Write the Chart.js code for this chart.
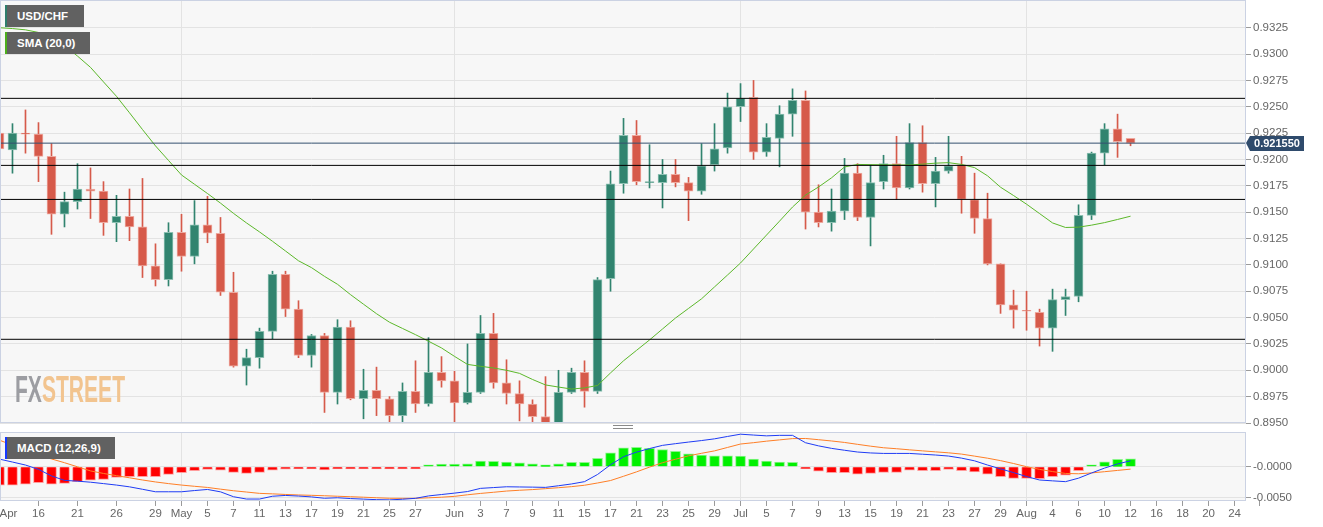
<!DOCTYPE html>
<html>
<head>
<meta charset="utf-8">
<title>USD/CHF daily</title>
<script src="https://cdn.jsdelivr.net/npm/chart.js@4.4.1/dist/chart.umd.min.js"></script>
<style>
    body { margin: 0; background: #fff; }
    #page { position: relative; width: 1323px; height: 527px; overflow: hidden; font-family: "Liberation Sans", Arial, sans-serif; }
    #page canvas { display: block; }
    .pane { position: absolute; left: 0; width: 1323px; }
    .tag { position: absolute; left: 5px; height: 22px; line-height: 22px; box-sizing: border-box;
           padding-left: 10px; border-left: 2px solid; background: #616161; color: #fff;
           font-size: 11.5px; font-weight: bold; white-space: nowrap; }
    #logo { position: absolute; left: 15px; top: 372px; font-size: 36px; font-weight: bold; line-height: 36px;
            transform: scaleX(0.585); transform-origin: 0 0; white-space: nowrap; }
    #logo .fx { color: #9c9da2; }
    #logo .st { color: #f2c48f; }
    #grip { position: absolute; left: 613px; top: 425px; width: 20px; height: 2px;
            border-top: 1px solid #8a8a8a; border-bottom: 1px solid #8a8a8a; }
</style>
</head>
<body>
<div id="page">
    <div class="pane" style="top:0;height:435px"><canvas id="priceChart" width="1323" height="435"></canvas></div>
    <div class="pane" style="top:428px;height:99px"><canvas id="macdChart" width="1323" height="99"></canvas></div>
    <div id="grip"></div>
    <div id="logo"><span class="fx">FX</span><span class="st">STREET</span></div>
    <div class="tag" style="top:5px;width:79px;border-color:#2e7d6b">USD/CHF</div>
    <div class="tag" style="top:32px;width:85px;border-color:#4cae1c">SMA (20,0)</div>
    <div class="tag" style="top:437px;width:110px;border-color:#1538ff">MACD (12,26,9)</div>
</div>

<script>
// daily candles, one per session (index = session number)
const openP = [
    0.9225, 0.9209, 0.9225, 0.9224, 0.9203, 0.9148, 0.9160, 0.9172, 0.9170, 0.9140,
    0.9146, 0.9136, 0.9099, 0.9086, 0.9131, 0.9108, 0.9138, 0.9130, 0.9074, 0.9004,
    0.9012, 0.9037, 0.9091, 0.9058, 0.9014, 0.9033, 0.8979, 0.9041, 0.8973, 0.8981,
    0.8973, 0.8957, 0.8980, 0.8968, 0.8998, 0.8990, 0.8969, 0.8979, 0.9035, 0.8988,
    0.8978, 0.8968, 0.8956, 0.8947, 0.8979, 0.8998, 0.8980, 0.9087, 0.9177, 0.9223,
    0.9178, 0.9178, 0.9186, 0.9178, 0.9170, 0.9195, 0.9211, 0.9250, 0.9259, 0.9207,
    0.9220, 0.9243, 0.9256, 0.9150, 0.9140, 0.9151, 0.9187, 0.9145, 0.9179, 0.9196,
    0.9173, 0.9216, 0.9177, 0.9189, 0.9195, 0.9162, 0.9144, 0.9101, 0.9062, 0.9057,
    0.9055, 0.9040, 0.9067, 0.9070, 0.9147, 0.9206, 0.9229, 0.9220
];
const highP = [
    0.9260, 0.9234, 0.9247, 0.9235, 0.9215, 0.9169, 0.9196, 0.9192, 0.9179, 0.9166,
    0.9172, 0.9182, 0.9120, 0.9140, 0.9148, 0.9161, 0.9165, 0.9145, 0.9093, 0.9020,
    0.9040, 0.9094, 0.9094, 0.9066, 0.9034, 0.9035, 0.9048, 0.9047, 0.9001, 0.9003,
    0.8975, 0.8988, 0.9009, 0.9031, 0.9013, 0.8999, 0.9025, 0.9052, 0.9054, 0.9010,
    0.8990, 0.8972, 0.8994, 0.9000, 0.9002, 0.9009, 0.9088, 0.9189, 0.9239, 0.9237,
    0.9214, 0.9200, 0.9200, 0.9183, 0.9215, 0.9234, 0.9263, 0.9272, 0.9275, 0.9234,
    0.9251, 0.9267, 0.9265, 0.9176, 0.9172, 0.9201, 0.9196, 0.9195, 0.9204, 0.9222,
    0.9234, 0.9232, 0.9202, 0.9222, 0.9203, 0.9187, 0.9168, 0.9101, 0.9076, 0.9075,
    0.9058, 0.9077, 0.9077, 0.9157, 0.9207, 0.9234, 0.9243, 0.9220
];
const lowP = [
    0.9198, 0.9187, 0.9206, 0.9179, 0.9129, 0.9136, 0.9153, 0.9144, 0.9128, 0.9122,
    0.9123, 0.9088, 0.9080, 0.9080, 0.9094, 0.9101, 0.9121, 0.9071, 0.9003, 0.8986,
    0.9002, 0.9030, 0.9051, 0.9012, 0.9003, 0.8960, 0.8968, 0.8972, 0.8954, 0.8957,
    0.8948, 0.8949, 0.8960, 0.8966, 0.8984, 0.8949, 0.8968, 0.8978, 0.8983, 0.8968,
    0.8952, 0.8949, 0.8940, 0.8940, 0.8978, 0.8965, 0.8978, 0.9075, 0.9168, 0.9176,
    0.9173, 0.9154, 0.9174, 0.9142, 0.9167, 0.9189, 0.9206, 0.9236, 0.9200, 0.9203,
    0.9193, 0.9222, 0.9134, 0.9136, 0.9132, 0.9143, 0.9142, 0.9118, 0.9172, 0.9162,
    0.9172, 0.9169, 0.9155, 0.9187, 0.9149, 0.9130, 0.9100, 0.9054, 0.9040, 0.9038,
    0.9023, 0.9018, 0.9052, 0.9065, 0.9143, 0.9195, 0.9202, 0.9213
];
const closeP = [
    0.9210, 0.9225, 0.9224, 0.9203, 0.9148, 0.9160, 0.9172, 0.9170, 0.9140, 0.9146,
    0.9136, 0.9099, 0.9086, 0.9131, 0.9108, 0.9138, 0.9130, 0.9074, 0.9004, 0.9012,
    0.9037, 0.9091, 0.9058, 0.9014, 0.9033, 0.8979, 0.9041, 0.8973, 0.8981, 0.8973,
    0.8957, 0.8980, 0.8968, 0.8998, 0.8990, 0.8969, 0.8979, 0.9035, 0.8988, 0.8978,
    0.8968, 0.8956, 0.8947, 0.8979, 0.8998, 0.8980, 0.9086, 0.9177, 0.9223, 0.9179,
    0.9179, 0.9186, 0.9178, 0.9170, 0.9194, 0.9210, 0.9250, 0.9258, 0.9207, 0.9221,
    0.9243, 0.9256, 0.9150, 0.9140, 0.9151, 0.9187, 0.9145, 0.9178, 0.9196, 0.9173,
    0.9216, 0.9177, 0.9189, 0.9194, 0.9162, 0.9144, 0.9101, 0.9062, 0.9057, 0.9056,
    0.9040, 0.9067, 0.9070, 0.9147, 0.9206, 0.9229, 0.9217, 0.92155
];
const sma20 = [
    0.93250, 0.93242, 0.93230, 0.93205, 0.93151, 0.93081, 0.92981, 0.92874, 0.92736, 0.92599,
    0.92443, 0.92284, 0.92129, 0.91991, 0.91853, 0.91765, 0.91677, 0.91586, 0.91489, 0.91398,
    0.91313, 0.91224, 0.91132, 0.91039, 0.90974, 0.90891, 0.90816, 0.90718, 0.90627, 0.90537,
    0.90456, 0.90397, 0.90338, 0.90276, 0.90212, 0.90132, 0.90056, 0.90038, 0.90022, 0.90000,
    0.89971, 0.89913, 0.89861, 0.89841, 0.89822, 0.89833, 0.89856, 0.89975, 0.90090, 0.90189,
    0.90288, 0.90392, 0.90496, 0.90587, 0.90678, 0.90791, 0.90904, 0.91018, 0.91151, 0.91283,
    0.91415, 0.91549, 0.91662, 0.91739, 0.91826, 0.91929, 0.91953, 0.91951, 0.91949, 0.91948,
    0.91948, 0.91956, 0.91965, 0.91970, 0.91953, 0.91923, 0.91845, 0.91737, 0.91658, 0.91576,
    0.91487, 0.91398, 0.91355, 0.91358, 0.91377, 0.91401, 0.91431, 0.91462
];
const macdLine = [
    0.00126, 0.00078, 0.00029, -0.00042, -0.00149, -0.00222, -0.00235, -0.00252, -0.00275, -0.00299,
    -0.00328, -0.00368, -0.00409, -0.00409, -0.00409, -0.00389, -0.00371, -0.00410, -0.00490, -0.00528,
    -0.00528, -0.00482, -0.00469, -0.00479, -0.00493, -0.00515, -0.00507, -0.00520, -0.00529, -0.00538,
    -0.00542, -0.00531, -0.00516, -0.00477, -0.00454, -0.00431, -0.00405, -0.00353, -0.00340, -0.00327,
    -0.00330, -0.00333, -0.00337, -0.00310, -0.00281, -0.00243, -0.00126, 0.00033, 0.00165, 0.00240,
    0.00299, 0.00351, 0.00379, 0.00405, 0.00430, 0.00458, 0.00497, 0.00534, 0.00520, 0.00507,
    0.00515, 0.00515, 0.00394, 0.00343, 0.00302, 0.00271, 0.00242, 0.00227, 0.00219, 0.00219,
    0.00219, 0.00206, 0.00193, 0.00176, 0.00142, 0.00098, 0.00029, -0.00034, -0.00095, -0.00160,
    -0.00216, -0.00230, -0.00243, -0.00186, -0.00101, -0.00021, 0.00047, 0.00098
];
const signalLine = [
    0.00436, 0.00355, 0.00270, 0.00193, 0.00129, 0.00067, 0.00000, -0.00067, -0.00109, -0.00145,
    -0.00180, -0.00216, -0.00248, -0.00275, -0.00299, -0.00319, -0.00338, -0.00366, -0.00392, -0.00413,
    -0.00435, -0.00443, -0.00453, -0.00461, -0.00467, -0.00474, -0.00482, -0.00490, -0.00498, -0.00507,
    -0.00515, -0.00516, -0.00516, -0.00508, -0.00498, -0.00484, -0.00458, -0.00436, -0.00417, -0.00397,
    -0.00384, -0.00373, -0.00358, -0.00342, -0.00325, -0.00302, -0.00265, -0.00225, -0.00155, -0.00083,
    -0.00005, 0.00067, 0.00124, 0.00180, 0.00221, 0.00261, 0.00317, 0.00373, 0.00395, 0.00420,
    0.00441, 0.00462, 0.00464, 0.00444, 0.00423, 0.00399, 0.00368, 0.00338, 0.00312, 0.00296,
    0.00278, 0.00261, 0.00245, 0.00229, 0.00208, 0.00175, 0.00141, 0.00101, 0.00054, 0.00002,
    -0.00042, -0.00078, -0.00109, -0.00114, -0.00100, -0.00080, -0.00059, -0.00038
];
const macdHist = [
    -0.00299, -0.00299, -0.00283, -0.00261, -0.00283, -0.00271, -0.00245, -0.00217, -0.00206, -0.00173,
    -0.00163, -0.00163, -0.00163, -0.00124, -0.00098, -0.00065, -0.00042, -0.00054, -0.00092, -0.00108,
    -0.00092, -0.00054, -0.00038, -0.00033, -0.00033, -0.00049, -0.00026, -0.00033, -0.00033, -0.00033,
    -0.00033, -0.00021, -0.00008, 0.00028, 0.00044, 0.00044, 0.00049, 0.00093, 0.00088, 0.00077,
    0.00065, 0.00049, 0.00033, 0.00049, 0.00072, 0.00072, 0.00137, 0.00229, 0.00310, 0.00317,
    0.00301, 0.00284, 0.00252, 0.00212, 0.00191, 0.00180, 0.00180, 0.00175, 0.00126, 0.00093,
    0.00077, 0.00072, -0.00005, -0.00070, -0.00098, -0.00098, -0.00119, -0.00108, -0.00092, -0.00092,
    -0.00054, -0.00065, -0.00065, -0.00042, -0.00065, -0.00082, -0.00119, -0.00163, -0.00190, -0.00190,
    -0.00196, -0.00163, -0.00136, -0.00065, 0.00010, 0.00082, 0.00121, 0.00131
];

// support / resistance levels and the last quote
const levels = [0.92580, 0.91944, 0.91621, 0.90294];
const LAST_PRICE = 0.92155;

// axis ticks
const priceTicks = [0.8950, 0.8975, 0.9000, 0.9025, 0.9050, 0.9075, 0.9100, 0.9125,
                    0.9150, 0.9175, 0.9200, 0.9225, 0.9250, 0.9275, 0.9300, 0.9325];
const macdTicks = [-0.005, 0];
const macdTickLabels = ['-0.0050', '-0.0000'];
const tickPos = [0, 3, 6, 9, 12, 14, 16, 18, 20, 22, 24, 26, 28, 30, 32,
                 35, 37, 39, 41, 43, 45, 47, 49, 51, 53, 55, 57, 59, 61, 63, 65, 67,
                 69, 71, 73, 75, 77, 79, 81, 83, 85, 87, 89, 91, 93, 95];
const tickLabels = ['Apr', '16', '21', '26', '29', 'May', '5', '7', '11', '13', '17', '19', '21', '25', '27',
                    'Jun', '3', '7', '9', '11', '15', '17', '21', '23', '25', '29', 'Jul', '5', '7', '9', '13', '15',
                    '19', '21', '23', '27', '29', 'Aug', '4', '6', '10', '12', '16', '18', '20', '24'];

const X_MIN = 0.04;    // first candle is cut in half by the panel edge
const X_MAX = 95.88;   // empty sessions kept on the right
const AXIS_W = 77;
const GRID = '#e3e3e3';
const TICK = '#9a9a9a';
const TEAL = '#31846f', TEAL_EDGE = '#8dc0b2';
const RED = '#d65a4a', RED_EDGE = '#eeaaa0';

Chart.defaults.font.family = '"Liberation Sans", Arial, sans-serif';
Chart.defaults.font.size = 11.5;
Chart.defaults.color = '#666';


function isUp(i) {
    return closeP[i] >= openP[i];
}

function pts(values) {
    return values.map(function (v, i) { return { x: i, y: v }; });
}

function span(v) {
    return [{ x: X_MIN, y: v }, { x: X_MAX, y: v }];
}

function dateTicks(scale) {
    scale.ticks = tickPos.map(function (p) { return { value: p }; });
    // dummy tick past the end so "24" stays centred with align 'inner'
    scale.ticks.push({ value: X_MAX + 1 });
}

function monthGrid(ctx) {
    var lab = tickLabels[ctx.index];
    return lab && /^[A-Z]/.test(lab) ? GRID : 'transparent';
}

function rightAxisFit(scale) {
    scale.width = AXIS_W;
    scale.paddingTop = 0;
    scale.paddingBottom = 0;
}

// grey panel background and thin frame
var panelBox = {
    id: 'panelBox',
    beforeDraw: function (chart) {
        var a = chart.chartArea, ctx = chart.ctx;
        ctx.save();
        ctx.fillStyle = '#f7f7f7';
        ctx.fillRect(a.left, a.top, a.right - a.left, a.bottom - a.top);
        ctx.restore();
    },
    afterDraw: function (chart) {
        var a = chart.chartArea, ctx = chart.ctx;
        ctx.save();
        ctx.strokeStyle = '#cbd2e3';
        ctx.lineWidth = 1;
        ctx.strokeRect(a.left + 0.5, a.top + 0.5, a.right - a.left - 1, a.bottom - a.top - 1);
        ctx.restore();
    }
};

// last price flag on the right axis
var lastPriceTag = {
    id: 'lastPriceTag',
    afterDraw: function (chart) {
        var ctx = chart.ctx;
        var y = Math.round(chart.scales.y.getPixelForValue(LAST_PRICE));
        var x = chart.chartArea.right;
        ctx.save();
        ctx.fillStyle = '#2f4b6c';
        ctx.beginPath();
        ctx.moveTo(x, y);
        ctx.lineTo(x + 4, y - 7);
        ctx.lineTo(x + 58, y - 7);
        ctx.lineTo(x + 58, y + 8);
        ctx.lineTo(x + 4, y + 8);
        ctx.closePath();
        ctx.fill();
        ctx.fillStyle = '#fff';
        ctx.font = 'bold 11px "Liberation Sans", Arial, sans-serif';
        ctx.textAlign = 'center';
        ctx.textBaseline = 'middle';
        ctx.fillText(LAST_PRICE.toFixed(6), x + 31, y + 0.5);
        ctx.restore();
    }
};


function drawPriceChart() {
    var bodies = openP.map(function (o, i) { return { x: i, y: [o, closeP[i]] }; });
    var wicks = lowP.map(function (l, i) { return { x: i, y: [l, highP[i]] }; });
    var fill = openP.map(function (o, i) { return isUp(i) ? TEAL : RED; });
    var edge = openP.map(function (o, i) { return isUp(i) ? TEAL_EDGE : RED_EDGE; });

    var datasets = [
        { type: 'line', label: 'last', data: span(LAST_PRICE), borderColor: '#34506f',
          borderWidth: 1, pointRadius: 0, order: 0 }
    ];
    levels.forEach(function (v) {
        datasets.push({ type: 'line', label: 'level', data: span(v), borderColor: '#000',
                        borderWidth: 1, pointRadius: 0, order: 1 });
    });
    datasets.push(
        { type: 'line', label: 'SMA (20,0)', data: pts(sma20), borderColor: '#5cb82a',
          borderWidth: 1, pointRadius: 0, order: 2 },
        { label: 'body', data: bodies, backgroundColor: fill, borderColor: edge, borderWidth: 1,
          borderSkipped: false, barThickness: 9, minBarLength: 1, grouped: false, order: 3 },
        { label: 'wick', data: wicks, backgroundColor: fill, barThickness: 1,
          grouped: false, order: 4 }
    );

    new Chart(document.getElementById('priceChart'), {
        type: 'bar',
        data: { datasets: datasets },
        options: {
            responsive: false,
            animation: false,
            events: [],
            layout: { padding: 0 },
            plugins: { legend: { display: false }, tooltip: { enabled: false } },
            scales: {
                x: {
                    type: 'linear', min: X_MIN, max: X_MAX, offset: false,
                    afterBuildTicks: dateTicks,
                    afterFit: function (s) { s.height = 12; s.paddingLeft = 0; s.paddingRight = 0; },
                    ticks: { display: false, autoSkip: false },
                    grid: { color: monthGrid, drawTicks: false, offset: false },
                    border: { display: false }
                },
                y: {
                    type: 'linear', position: 'right', min: 0.895, max: 0.93513,
                    afterBuildTicks: function (s) { s.ticks = priceTicks.map(function (v) { return { value: v }; }); },
                    afterFit: rightAxisFit,
                    ticks: { padding: 2, callback: function (v) { return v.toFixed(4); } },
                    grid: { color: GRID, tickColor: TICK, tickLength: 5 },
                    border: { display: false }
                }
            }
        },
        plugins: [panelBox, lastPriceTag]
    });
}

function drawMacdChart() {
    var histColor = macdHist.map(function (v) { return v >= 0 ? '#00f000' : '#ff0000'; });
    var histEdge = macdHist.map(function (v) { return v >= 0 ? '#8cf58c' : '#ff9c9c'; });

    new Chart(document.getElementById('macdChart'), {
        type: 'bar',
        data: {
            datasets: [
                { type: 'line', label: 'MACD', data: pts(macdLine), borderColor: '#1f3cf5',
                  borderWidth: 1, pointRadius: 0, order: 0 },
                { type: 'line', label: 'signal', data: pts(signalLine), borderColor: '#ff7f27',
                  borderWidth: 1, pointRadius: 0, order: 1 },
                { label: 'histogram', data: pts(macdHist), backgroundColor: histColor,
                  borderColor: histEdge, borderWidth: 1, barThickness: 10, minBarLength: 2, order: 2 }
            ]
        },
        options: {
            responsive: false,
            animation: false,
            events: [],
            layout: { padding: { top: 4 } },
            plugins: { legend: { display: false }, tooltip: { enabled: false } },
            scales: {
                x: {
                    type: 'linear', min: X_MIN, max: X_MAX, offset: false,
                    afterBuildTicks: dateTicks,
                    afterFit: function (s) { s.height = 26; s.paddingLeft = 0; s.paddingRight = 0; },
                    ticks: {
                        align: 'inner', autoSkip: false, maxRotation: 0, padding: 1,
                        callback: function (v, i) { return tickLabels[i] || ''; }
                    },
                    grid: { color: monthGrid, tickColor: TICK, tickLength: 5, offset: false },
                    border: { display: false }
                },
                y: {
                    type: 'linear', position: 'right', min: -0.0056, max: 0.0057,
                    afterBuildTicks: function (s) { s.ticks = macdTicks.map(function (v) { return { value: v }; }); },
                    afterFit: rightAxisFit,
                    ticks: { padding: 2, callback: function (v, i) { return macdTickLabels[i]; } },
                    grid: { color: GRID, tickColor: TICK, tickLength: 5 },
                    border: { display: false }
                }
            }
        },
        plugins: [panelBox]
    });
}


window.onload = function () {
    drawPriceChart();
    drawMacdChart();
};
</script>
</body>
</html>
